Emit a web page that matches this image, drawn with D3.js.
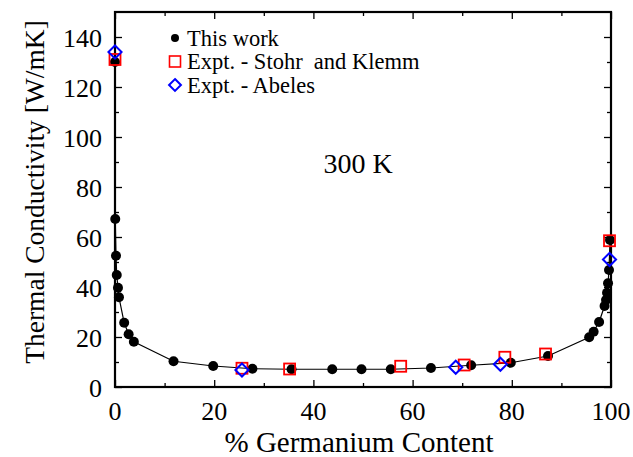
<!DOCTYPE html>
<html>
<head>
<meta charset="utf-8">
<script src="https://cdn.jsdelivr.net/npm/d3@7"></script>
<style>
  body { margin: 0; background: #fff; }
</style>
</head>
<body>
<svg id="chart" width="633" height="457"></svg>
<script>
// this work (calculated)
const workX = [0, 0.05, 0.2, 0.35, 0.6, 0.8, 1.85, 2.75, 3.8, 11.8, 19.8, 27.7, 35.6, 43.8, 49.7, 55.6, 63.7, 71.8, 79.8, 87.3, 95.6, 96.5, 97.6, 98.7, 99.0, 99.2, 99.4, 99.6, 99.8];
const workY = [130, 67.2, 52.5, 44.8, 39.7, 35.9, 25.7, 21.1, 18.1, 10.3, 8.4, 7.3, 7.1, 7.1, 7.1, 7.1, 7.6, 8.7, 9.7, 12.4, 19.9, 22.1, 26.0, 32.4, 34.8, 37.7, 41.5, 46.8, 58.8];
// experiment - Stohr and Klemm
const stohrX = [0, 25.6, 35.2, 57.6, 70.4, 78.6, 86.8, 99.7];
const stohrY = [131, 7.5, 7.2, 8.3, 8.8, 11.9, 13.2, 58.5];
// experiment - Abeles
const abelesX = [0, 25.6, 68.7, 77.7, 99.7];
const abelesY = [134, 6.8, 7.9, 9.1, 51];

const xTicks = [0, 20, 40, 60, 80, 100];
const yTicks = [0, 20, 40, 60, 80, 100, 120, 140];
const legendLabels = ["This work", "Expt. - Stohr\u00a0 and Klemm", "Expt. - Abeles"];

const FONT = "'Liberation Serif', 'Times New Roman', serif";
const svg = d3.select("#chart");
const m = {left: 115, right: 22, top: 12, bottom: 70};
const W = 633, H = 457;

const x = d3.scaleLinear().domain([0, 100]).range([m.left, W - m.right]);
const y = d3.scaleLinear().domain([0, 150]).range([H - m.bottom, m.top]);

const work = workX.map((v, i) => ({x: v, y: workY[i]}));
const stohr = stohrX.map((v, i) => ({x: v, y: stohrY[i]}));
const abeles = abelesX.map((v, i) => ({x: v, y: abelesY[i]}));

// ticks pointing inward on all four sides
function ticks(axisFn, scale, vals, size, tx, ty) {
  const g = svg.append("g").attr("transform", `translate(${tx},${ty})`)
    .call(axisFn(scale).tickValues(vals).tickSize(size).tickFormat(""));
  g.select(".domain").remove();
  g.selectAll("line").attr("stroke", "#000").attr("stroke-width", 1.3);
}
const minorX = d3.range(10, 100, 20);
const minorY = d3.range(10, 150, 20);
ticks(d3.axisTop, x, xTicks, 7, 0, y(0));
ticks(d3.axisTop, x, minorX, 4, 0, y(0));
ticks(d3.axisBottom, x, xTicks, 7, 0, y(150));
ticks(d3.axisBottom, x, minorX, 4, 0, y(150));
ticks(d3.axisRight, y, yTicks, 7, x(0), 0);
ticks(d3.axisRight, y, minorY, 4, x(0), 0);
ticks(d3.axisLeft, y, yTicks, 7, x(100), 0);
ticks(d3.axisLeft, y, minorY, 4, x(100), 0);

// tick labels
svg.append("g").selectAll("text").data(xTicks).join("text")
  .attr("x", d => x(d)).attr("y", y(0) + 33)
  .attr("text-anchor", "middle").attr("font-family", FONT).attr("font-size", 26).text(d => d);
svg.append("g").selectAll("text").data(yTicks).join("text")
  .attr("x", x(0) - 13).attr("y", d => y(d) + 9.5)
  .attr("text-anchor", "end").attr("font-family", FONT).attr("font-size", 26).text(d => d);

// frame
svg.append("rect")
  .attr("x", x(0)).attr("y", y(150))
  .attr("width", x(100) - x(0)).attr("height", y(0) - y(150))
  .attr("fill", "none").attr("stroke", "#000").attr("stroke-width", 2.2);

// axis titles
svg.append("text").attr("x", 359).attr("y", 452)
  .attr("text-anchor", "middle").attr("font-family", FONT).attr("font-size", 29).text("% Germanium Content");
svg.append("text").attr("transform", "translate(44,192) rotate(-90)")
  .attr("text-anchor", "middle").attr("font-family", FONT).attr("font-size", 27.5).text("Thermal Conductivity [W/mK]");

svg.append("text").attr("x", x(49)).attr("y", y(85.6)).attr("text-anchor", "middle")
  .attr("font-family", FONT).attr("font-size", 28).text("300 K");

// curve + markers
svg.append("path").datum(work)
  .attr("fill", "none").attr("stroke", "#000").attr("stroke-width", 1.2)
  .attr("d", d3.line().x(d => x(d.x)).y(d => y(d.y)));

svg.append("g").selectAll("circle").data(work).join("circle")
  .attr("cx", d => x(d.x)).attr("cy", d => y(d.y)).attr("r", 5).attr("fill", "#000");

const sq = 11;
svg.append("g").selectAll("rect").data(stohr).join("rect")
  .attr("x", d => x(d.x) - sq / 2).attr("y", d => y(d.y) - sq / 2)
  .attr("width", sq).attr("height", sq)
  .attr("fill", "none").attr("stroke", "#f00").attr("stroke-width", 1.8);

const diamond = d3.symbol().type(d3.symbolDiamond2).size(110);
svg.append("g").selectAll("path").data(abeles).join("path")
  .attr("transform", d => `translate(${x(d.x)},${y(d.y)})`)
  .attr("d", diamond)
  .attr("fill", "none").attr("stroke", "#00f").attr("stroke-width", 2);

// legend
const lg = svg.append("g");
const lx = 175, ly = 38, dy = 23.5;
lg.append("circle").attr("cx", lx).attr("cy", ly).attr("r", 4).attr("fill", "#000");
lg.append("rect").attr("x", lx - 5.5).attr("y", ly + dy - 5.5).attr("width", 11).attr("height", 11)
  .attr("fill", "none").attr("stroke", "#f00").attr("stroke-width", 1.6);
lg.append("path").attr("transform", `translate(${lx},${ly + 2 * dy})`)
  .attr("d", d3.symbol().type(d3.symbolDiamond2).size(90))
  .attr("fill", "none").attr("stroke", "#00f").attr("stroke-width", 2);
lg.selectAll("text").data(legendLabels).join("text")
  .attr("x", lx + 12).attr("y", (d, i) => ly + 7.5 + i * dy)
  .attr("font-family", FONT).attr("font-size", 22.5).text(d => d);
</script>
</body>
</html>
